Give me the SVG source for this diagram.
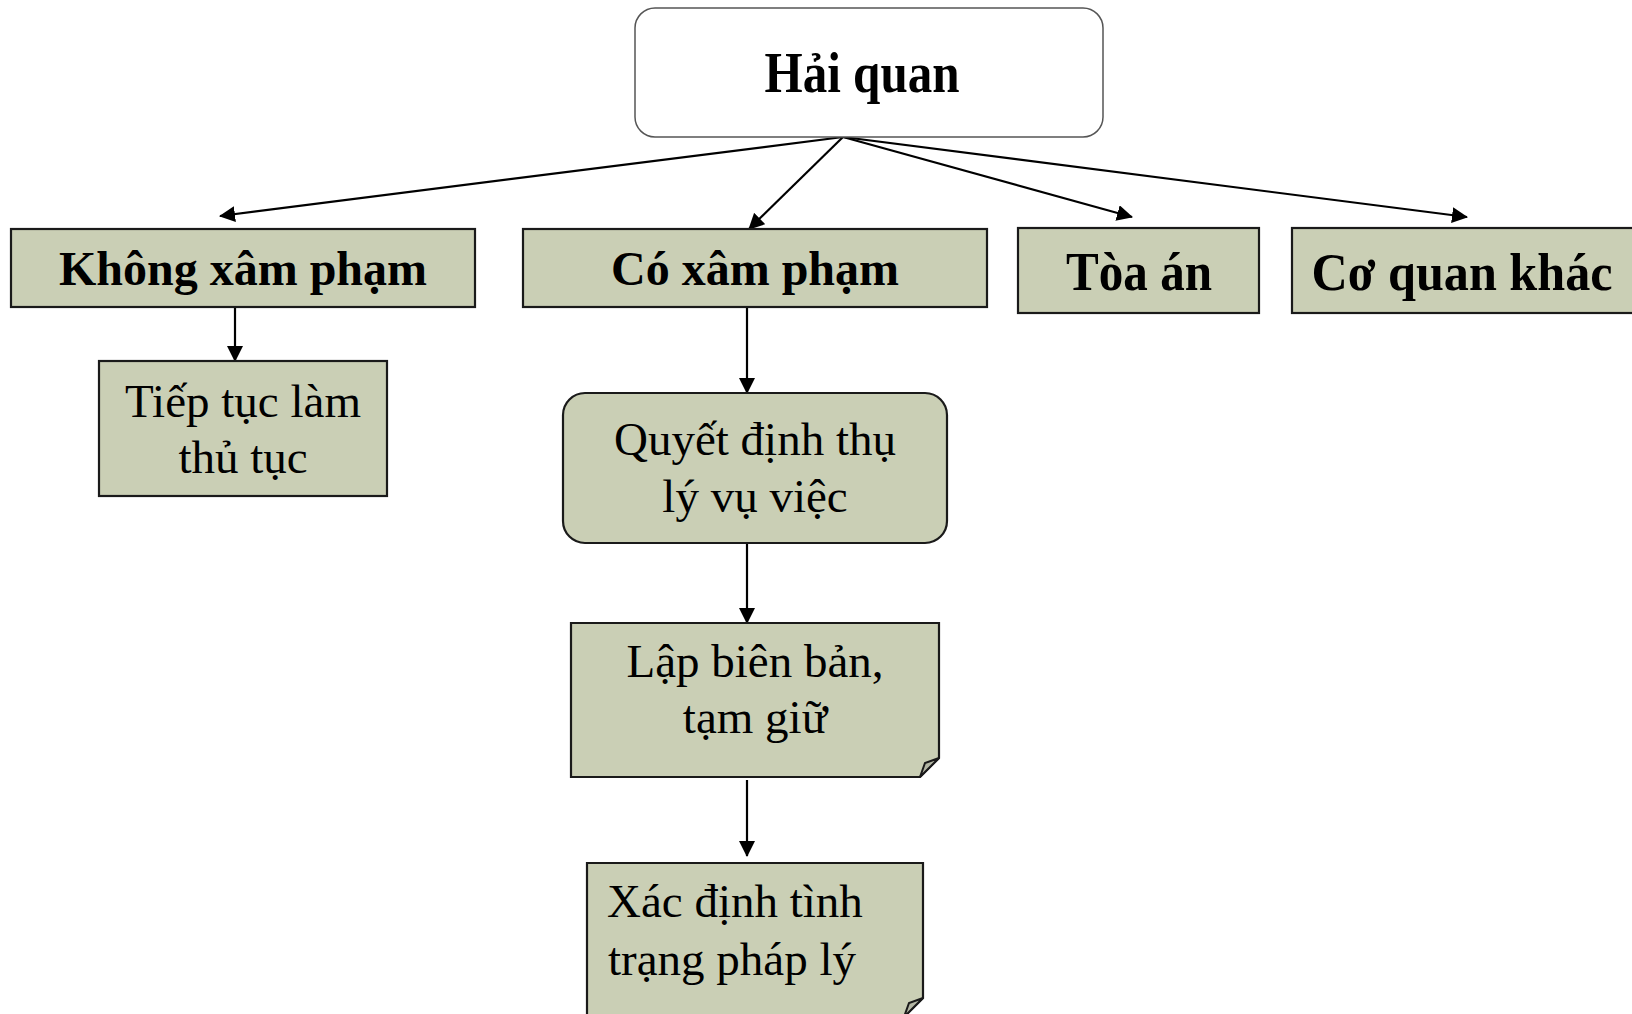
<svg xmlns="http://www.w3.org/2000/svg" width="1632" height="1014" viewBox="0 0 1632 1014">
<style>
.box{fill:#cacfb5;stroke:#1a1a1a;stroke-width:2.2}
.fold{fill:#b3b6a4;stroke:#1a1a1a;stroke-width:2}
.t{font-family:"Liberation Serif","Times New Roman",serif;fill:#000;text-anchor:middle}
.b{font-weight:bold}
.r{font-size:47px}
.conn line{stroke:#000;stroke-width:2.2;marker-end:url(#ah)}
</style>
<defs>
<marker id="ah" markerUnits="userSpaceOnUse" viewBox="0 0 16 16" refX="15" refY="8" markerWidth="16" markerHeight="16" orient="auto">
<path d="M0,0 L16,8 L0,16 z" fill="#000"/>
</marker>
</defs>
<rect width="1632" height="1014" fill="#fff"/>
<g id="connectors" class="conn">
<line x1="843" y1="137" x2="220" y2="216"/>
<line x1="843" y1="137" x2="749" y2="229"/>
<line x1="843" y1="137" x2="1132" y2="217"/>
<line x1="843" y1="137" x2="1467" y2="217"/>
<line x1="235" y1="307" x2="235" y2="361"/>
<line x1="747" y1="307" x2="747" y2="393"/>
<line x1="747" y1="543" x2="747" y2="623"/>
<line x1="747" y1="780" x2="747" y2="856"/>
</g>
<g id="hai-quan">
<rect x="635" y="8" width="468" height="129" rx="20" fill="#fff" stroke="#555" stroke-width="1.5"/>
<text class="t b" x="862" y="92" font-size="56" textLength="195" lengthAdjust="spacingAndGlyphs">Hải quan</text>
</g>
<g id="khong-xam-pham">
<rect class="box" x="11" y="229" width="464" height="78"/>
<text class="t b" x="243" y="285" font-size="48">Không xâm phạm</text>
</g>
<g id="co-xam-pham">
<rect class="box" x="523" y="229" width="464" height="78"/>
<text class="t b" x="755" y="285" font-size="48">Có xâm phạm</text>
</g>
<g id="toa-an">
<rect class="box" x="1018" y="228" width="241" height="85"/>
<text class="t b" x="1139" y="290" font-size="54" textLength="146" lengthAdjust="spacingAndGlyphs">Tòa án</text>
</g>
<g id="co-quan-khac">
<rect class="box" x="1292" y="228" width="360" height="85"/>
<text class="t b" x="1462" y="290" font-size="52" textLength="301" lengthAdjust="spacingAndGlyphs">Cơ quan khác</text>
</g>
<g id="tiep-tuc">
<rect class="box" x="99" y="361" width="288" height="135"/>
<text class="t r" x="243" y="417">Tiếp tục làm</text>
<text class="t r" x="243" y="473">thủ tục</text>
</g>
<g id="quyet-dinh">
<rect class="box" x="563" y="393" width="384" height="150" rx="22"/>
<text class="t r" x="755" y="455">Quyết định thụ</text>
<text class="t r" x="755" y="512">lý vụ việc</text>
</g>
<g id="lap-bien-ban">
<path class="box" d="M571,623 H939 V758 L920,777 H571 Z"/>
<path class="fold" d="M920,777 L939,758 L925,763 Z"/>
<text class="t r" x="755" y="677">Lập biên bản,</text>
<text class="t r" x="755" y="733">tạm giữ</text>
</g>
<g id="xac-dinh">
<path class="box" d="M587,863 H923 V998 L904,1017 H587 Z"/>
<path class="fold" d="M904,1017 L923,998 L909,1003 Z"/>
<text class="t r" x="607" y="917" text-anchor="start" style="text-anchor:start">Xác định tình</text>
<text class="t r" x="608" y="975" style="text-anchor:start">trạng pháp lý</text>
</g>
</svg>
